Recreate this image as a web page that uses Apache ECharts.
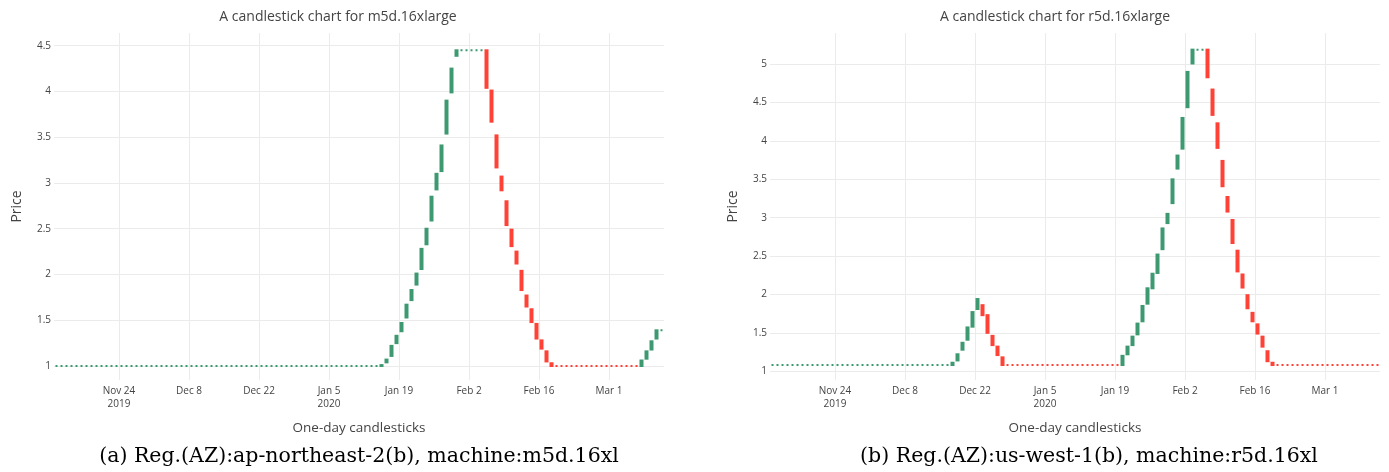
<!DOCTYPE html>
<html>
<head>
<meta charset="utf-8">
<script src="https://cdn.jsdelivr.net/npm/echarts@6/dist/echarts.min.js"></script>
<style>html,body{margin:0;padding:0;background:#fff}</style>
</head>
<body>
<div id="chart" style="width:1389px;height:472px"></div>
<script>
// one candle per day, first day 2019-11-11
var firstDay = [2019, 10, 11];
var tickDates = [[2019,10,24],[2019,11,8],[2019,11,22],[2020,0,5],[2020,0,19],[2020,1,2],[2020,1,16],[2020,2,1]];
var tickLabels = ['Nov 24\n2019', 'Dec 8', 'Dec 22', 'Jan 5\n2020', 'Jan 19', 'Feb 2', 'Feb 16', 'Mar 1'];

// m5d.16xlarge, ap-northeast-2(b)
var m5dOpen = [
  1,1,1,1,1,1,1,1,1,1, 1,1,1,1,1,1,1,1,1,1, 1,1,1,1,1,1,1,1,1,1,
  1,1,1,1,1,1,1,1,1,1, 1,1,1,1,1,1,1,1,1,1, 1,1,1,1,1,1,1,1,1,1,
  1,1,1,1,1,
  1.00,1.04,1.11,1.25,1.38,1.53,1.72,1.89,2.06,2.33,2.59,2.93,3.13,3.54,3.99,4.39,
  4.45,4.45,4.45,4.45,4.45,
  4.45,4.01,3.52,3.07,2.80,2.49,2.25,2.04,1.77,1.62,1.46,1.28,1.16,1.03,
  1,1,1,1,1,1,1,1,1,1, 1,1,1,1,1,1,1,
  1.00,1.08,1.18,1.30,
  1.39
];
var m5dClose = [
  1,1,1,1,1,1,1,1,1,1, 1,1,1,1,1,1,1,1,1,1, 1,1,1,1,1,1,1,1,1,1,
  1,1,1,1,1,1,1,1,1,1, 1,1,1,1,1,1,1,1,1,1, 1,1,1,1,1,1,1,1,1,1,
  1,1,1,1,1,
  1.01,1.07,1.22,1.33,1.47,1.67,1.83,2.01,2.28,2.50,2.85,3.10,3.41,3.90,4.25,4.45,
  4.45,4.45,4.45,4.45,4.45,
  4.04,3.67,3.17,2.92,2.54,2.31,2.12,1.83,1.65,1.48,1.30,1.19,1.05,1.00,
  1,1,1,1,1,1,1,1,1,1, 1,1,1,1,1,1,1,
  1.06,1.16,1.27,1.39,
  1.39
];

// r5d.16xlarge, us-west-1(b)
var r5dOpen = [
  1.08,1.08,1.08,1.08,1.08,1.08,1.08,1.08,1.08,1.08, 1.08,1.08,1.08,1.08,1.08,1.08,1.08,1.08,1.08,1.08,
  1.08,1.08,1.08,1.08,1.08,1.08,1.08,1.08,1.08,1.08, 1.08,1.08,1.08,1.08,1.08,1.08,
  1.08,1.14,1.28,1.41,1.58,1.81,
  1.86,1.73,1.46,1.32,1.18,
  1.08,1.08,1.08,1.08,1.08,1.08,1.08,1.08,1.08,1.08, 1.08,1.08,1.08,1.08,1.08,1.08,1.08,1.08,1.08,1.08,
  1.08,1.08,1.08,
  1.08,1.22,1.34,1.48,1.65,1.88,2.08,2.28,2.59,2.93,3.19,3.64,3.90,4.44,5.01,
  5.19,5.19,
  5.19,4.67,4.23,3.74,3.27,2.97,2.57,2.26,1.99,1.76,1.61,1.45,1.26,1.11,
  1.08,1.08,1.08,1.08,1.08,1.08,1.08,1.08,1.08,1.08, 1.08,1.08,1.08,1.08,1.08,1.08,1.08,1.08,1.08,1.08,
  1.08
];
var r5dClose = [
  1.08,1.08,1.08,1.08,1.08,1.08,1.08,1.08,1.08,1.08, 1.08,1.08,1.08,1.08,1.08,1.08,1.08,1.08,1.08,1.08,
  1.08,1.08,1.08,1.08,1.08,1.08,1.08,1.08,1.08,1.08, 1.08,1.08,1.08,1.08,1.08,1.08,
  1.11,1.22,1.37,1.57,1.77,1.94,
  1.73,1.50,1.34,1.21,1.08,
  1.08,1.08,1.08,1.08,1.08,1.08,1.08,1.08,1.08,1.08, 1.08,1.08,1.08,1.08,1.08,1.08,1.08,1.08,1.08,1.08,
  1.08,1.08,1.08,
  1.20,1.32,1.45,1.62,1.85,2.08,2.27,2.52,2.86,3.05,3.50,3.81,4.30,4.90,5.19,
  5.19,5.19,
  4.83,4.34,3.91,3.41,3.08,2.67,2.30,2.09,1.82,1.65,1.49,1.32,1.13,1.08,
  1.08,1.08,1.08,1.08,1.08,1.08,1.08,1.08,1.08,1.08, 1.08,1.08,1.08,1.08,1.08,1.08,1.08,1.08,1.08,1.08,
  1.08
];

var priceTicks1 = [1, 1.5, 2, 2.5, 3, 3.5, 4, 4.5];
var priceTicks2 = [1, 1.5, 2, 2.5, 3, 3.5, 4, 4.5, 5];

var up = '#3D9970', down = '#FF4136';
var upFill = 'rgba(61,153,112,0.5)', downFill = 'rgba(255,65,54,0.5)';
var DAY = 86400000;
var t0 = Date.UTC(firstDay[0], firstDay[1], firstDay[2]);
var tickValues = tickDates.map(function (d) { return Date.UTC(d[0], d[1], d[2]); });

// candles sit at noon; a flat day keeps the colour of the day before
function buildData(open, close) {
  var res = [], dir = 1;
  for (var i = 0; i < open.length; i++) {
    var o = open[i], c = close[i];
    if (c > o) dir = 1; else if (c < o) dir = -1;
    var line = dir > 0 ? up : down, fill = dir > 0 ? upFill : downFill;
    res.push({
      value: [t0 + i * DAY + DAY / 2, o, c, Math.min(o, c), Math.max(o, c)],
      itemStyle: {
        color: fill, color0: fill,
        borderColor: line, borderColor0: line, borderColorDoji: line
      }
    });
  }
  return res;
}

var font = "'Open Sans', verdana, arial, sans-serif";
var textColor = '#444';
var gridColor = '#ebebeb';

function xAxis(idx, n) {
  return {
    type: 'value', gridIndex: idx,
    min: t0, max: t0 + n * DAY,
    axisLine: { show: false },
    axisTick: { show: false, customValues: tickValues },
    axisLabel: {
      customValues: tickValues, color: textColor, fontFamily: font, fontSize: 10,
      lineHeight: 13, margin: 5,
      formatter: function (v) {
        var k = tickValues.indexOf(v);
        return k >= 0 ? tickLabels[k] : '';
      }
    },
    splitLine: { show: true, lineStyle: { color: gridColor, width: 1 } },
    name: 'One-day candlesticks', nameLocation: 'middle', nameGap: 41,
    nameTextStyle: { color: textColor, fontFamily: font, fontSize: 13.5 }
  };
}
function yAxis(idx, min, max, ticks) {
  return {
    type: 'value', gridIndex: idx, min: min, max: max,
    axisLine: { show: false },
    axisTick: { show: false, customValues: ticks },
    axisLabel: { customValues: ticks, color: textColor, fontFamily: font, fontSize: 10, margin: 3 },
    splitLine: { show: true, lineStyle: { color: gridColor, width: 1 } },
    name: 'Price', nameLocation: 'middle', nameGap: 30, nameRotate: 90,
    nameTextStyle: { color: textColor, fontFamily: font, fontSize: 14 }
  };
}
function candles(idx, open, close) {
  return {
    type: 'candlestick', xAxisIndex: idx, yAxisIndex: idx,
    barWidth: 2,
    itemStyle: { borderWidth: 2 },
    emphasis: { disabled: true },
    animation: false,
    data: buildData(open, close)
  };
}

var chart = echarts.init(document.getElementById('chart'));
chart.setOption({
  backgroundColor: '#fff',
  animation: false,
  grid: [
    { left: 54, top: 33, width: 610, height: 347 },
    { left: 770, top: 33, width: 610, height: 347 }
  ],
  xAxis: [xAxis(0, m5dOpen.length), xAxis(1, r5dOpen.length)],
  yAxis: [yAxis(0, 0.847, 4.639, priceTicks1), yAxis(1, 0.885, 5.407, priceTicks2)],
  series: [candles(0, m5dOpen, m5dClose), candles(1, r5dOpen, r5dClose)],
  graphic: [
    { type: 'text', x: 338, y: 17, style: { text: 'A candlestick chart for m5d.16xlarge', fill: textColor,
      font: '14px ' + font, textAlign: 'center', textVerticalAlign: 'middle' } },
    { type: 'text', x: 1055, y: 17, style: { text: 'A candlestick chart for r5d.16xlarge', fill: textColor,
      font: '14px ' + font, textAlign: 'center', textVerticalAlign: 'middle' } },
    { type: 'text', x: 359, y: 457, style: { text: '(a) Reg.(AZ):ap-northeast-2(b), machine:m5d.16xl', fill: '#000',
      font: '20.5px "DejaVu Serif", serif', textAlign: 'center', textVerticalAlign: 'middle' } },
    { type: 'text', x: 1089, y: 457, style: { text: '(b) Reg.(AZ):us-west-1(b), machine:r5d.16xl', fill: '#000',
      font: '20.5px "DejaVu Serif", serif', textAlign: 'center', textVerticalAlign: 'middle' } }
  ]
});
</script>
</body>
</html>
